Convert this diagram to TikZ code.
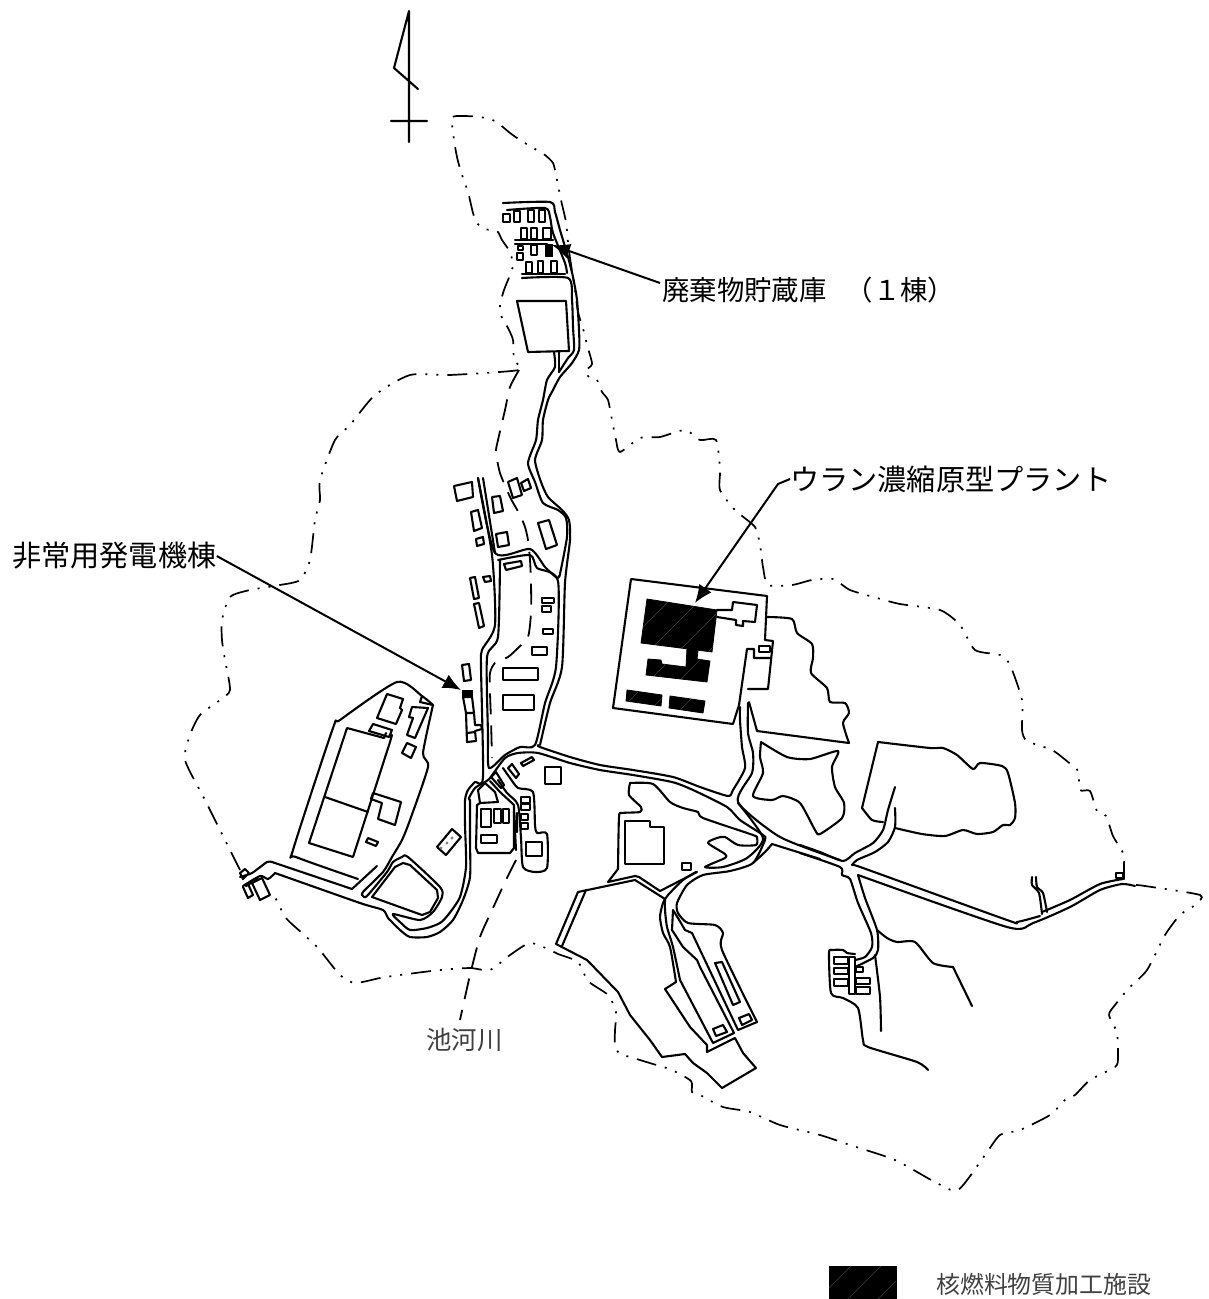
\documentclass[tikz,border=0pt]{standalone}
\usepackage{fontspec}
\usetikzlibrary{arrows.meta}
\newfontfamily\jp{Noto Sans CJK JP}
\tikzset{
 ln/.style={line width=2.1bp,line join=round,line cap=round,draw=black},
 bnd/.style={line width=1.7bp,dash pattern=on 20bp off 9bp on 2bp off 9bp on 2bp off 9bp},
 riv/.style={line width=1.8bp,dash pattern=on 21bp off 11bp},
 lbl/.style={font=\jp\fontsize{29.3}{31}\selectfont,inner sep=0pt,anchor=west,text=black},
 lgd/.style={font=\jp\fontsize{24}{26}\selectfont,inner sep=0pt,anchor=west,text=black!75},
 ptr/.style={line width=2bp,-{Latex[length=18bp,width=15bp]}},
 blk/.style={fill=black,draw=black,line width=.8bp,line join=round},
 hatchl/.style={line width=.5bp,draw=black!75},
}
\newcommand{\cv}[2][ln]{\draw[#1] plot[smooth,tension=.4] coordinates {#2};}
\newcommand{\hatched}[2]{\fill[black,draw=black,line width=.8bp,line join=round] #1;
 \begin{scope}\clip #1; \foreach \d in {-1000,-970,...,1500} {\draw[hatchl] (\d+#2,1400) -- (\d+#2+1400,0);}\end{scope}}
\begin{document}
\begin{tikzpicture}[x=1bp,y=-1bp]
\useasboundingbox (0,0) rectangle (1208,1299);
% north arrow
\draw[ln] (409,11) -- (409,142) (391,121) -- (427,121) (409,11) -- (394,68) -- (418,89);
% boundary
\cv[bnd]{(240,870)(225,840)(205,800)(185,760)(190,735)(200,715)(220,700)(230,690)(225,660)(222,640)(222,620)(230,597)(250,590)(280,585)(300,580)(310,560)(315,520)(320,500)(320,480)(335,440)(350,425)(375,395)(410,375)(450,375)(519,370)(514,360)(513,340)(508,328)(502,318)(500,305)(504,290)(510,275)(513,265)(510,252)(502,240)(497,231)(484,229)(477,223)(473,213)(468,192)(461,172)(457,157)(454,140)(452,118)(462,116)(480,117)(495,121)(510,133)(520,140)(535,149)(545,155)(553,163)(556,175)(561,200)(566,222)(568,242)(570,258)(575,290)(578,312)(584,332)(587,345)(592,364)(585,371)(590,378)(597,380)(602,392)(608,400)(612,420)(616,440)(620,452)(640,438)(660,437)(685,430)(700,440)(716,440)(720,470)(720,490)(735,510)(755,527)(760,545)(763,567)(768,585)(792,585)(812,580)(833,579)(850,590)(877,598)(900,604)(940,610)(960,625)(975,650)(1000,655)(1010,665)(1022,700)(1022,730)(1027,741)(1052,750)(1068,762)(1078,771)(1080,790)(1090,791)(1097,811)(1106,816)(1113,836)(1123,853)(1124,863)}
\cv[bnd]{(1136,885)(1145,886)(1200,895)(1195,905)(1180,915)(1165,935)(1147,970)(1129,988)(1115,1005)(1109,1015)(1117,1033)(1118,1058)(1115,1067)(1090,1080)(1075,1095)(1065,1100)(1050,1115)(1020,1130)(1000,1135)(985,1155)(958,1190)(935,1182)(895,1160)(850,1145)(820,1135)(780,1125)(750,1112)(723,1107)(700,1095)(692,1092)(691,1081)(672,1070)(653,1064)(630,1057)(620,1054)(615,1046)(615,1030)(616,1012)(608,995)(588,981)(578,962)(558,954)(550,950)(530,943)(510,955)(490,970)(470,968)(440,970)(400,975)(380,978)(355,983)(340,975)(318,948)(302,933)(286,918)(275,897)}
% river
\cv[riv]{(519,370)(510,387)(505,410)(498,440)(496,452)(500,473)(510,497)(520,515)(525,527)(528,540)(530,560)(531,583)(531,613)(528,637)(518,648)(508,657)(495,663)(490,673)(490,693)(491,720)(492,758)}
\cv[riv]{(516,860)(505,882)(493,908)(480,937)(470,975)(460,1020)}
\draw[ln] (514,812) -- (516,850) (517,813) -- (517,832);
% top compound
\cv{(503,203)(550,202)(555,212)(560,230)(568,257)(573,277)(577,300)(579,330)(579,350)(572,363)(560,377)(553,390)(548,400)(543,420)(542,440)(535,460)(541,482)(548,497)(562,510)(569,520)(570,540)(565,583)(562,667)(550,703)(540,745)}
\cv{(507,210)(545,208)(550,217)(553,233)(565,263)(567,273)}
\cv{(522,278)(568,278)(572,300)(573,327)(574,350)(568,358)(559,372)}
\draw[ln] (559,372) -- (559,352);
\cv{(554,352)(555,367)(547,380)(543,400)(538,420)(536,440)(528,463)(535,482)(543,503)(558,510)(566,518)(567,537)(560,574)(559,576)(557,578)(545,567)(530,549)(495,553)(478,478)}
\draw[ln] (483,478) -- (495,553);
\draw[ln] (515,240) -- (553,240) (515,244) -- (547,244) (522,274) -- (565,274);
\foreach \a/\b/\c/\d in {503/214/510/222,514/211/520/222,528/210/534/222,539/210/545/222,521/228/527/239,531/228/537/239,543/228/551/239,518/246/523/250,517/253/523/260,531/245/537/255,526/262/532/273,538/261/543/273,551/261/557/273}
 \draw[ln] (\a,\b) rectangle (\c,\d);
\fill[blk] (545,244) rectangle (552,256);
\draw[ln] (517,301) -- (566,301) -- (569,351) -- (528,352) -- cycle;
% mid compound road ring
\cv{(478,478)(492,555)(495,625)(482,650)(481,667)(483,777)(475,782)(468,790)(465,800)(465,825)(466,867)(460,897)(448,915)(440,923)(427,928)(410,930)(400,922)(393,914)(420,920)(433,912)(442,897)(440,887)(408,857)(402,857)(393,862)(387,872)(367,896)(363,896)(363,892)(383,872)(392,857)(402,840)(410,820)(428,767)(423,753)(433,705)}
\cv{(498,560)(530,555)(537,568)(558,581)(556,667)(545,703)(535,745)(520,747)(505,755)(489,768)(488,735)(487,657)(498,637)(500,560)}
% east road
\cv{(538,745)(540,747)(570,757)(600,765)(633,770)(673,777)(700,787)(728,796)(733,790)(745,768)(742,747)(740,720)(740,707)}
\cv{(748,703)(748,733)(753,753)(752,773)(738,802)(780,837)(840,860)}
\cv{(485,782)(490,778)(505,758)(518,753)(538,753)(570,763)(600,770)(633,775)(672,782)(693,790)(727,807)(740,820)(763,835)(765,840)(753,863)(730,871)(703,875)(687,885)(677,903)(678,913)(688,923)(715,925)(723,933)(722,950)(757,1022)}
\cv{(800,845)(820,852)(843,861)(855,853)(873,843)(883,830)(888,810)(895,787)}
\cv{(895,808)(895,827)(888,842)(875,852)(857,860)(853,865)(863,868)(1007,920)(1017,922)(1040,916)}
\cv{(1042,912)(1070,900)(1100,884)(1123,879)}
\cv{(1032,877)(1032,885)(1039,893)(1042,914)}
\cv{(1036,877)(1037,887)(1043,893)(1047,912)}
\cv{(858,875)(1007,927)(1033,923)(1070,907)(1100,890)(1122,884)(1135,886)}
\cv{(800,853)(840,867)(842,875)(850,879)(858,903)(871,933)(872,947)(865,957)(855,960)}
\cv{(858,875)(865,898)(877,930)(878,950)(873,958)(855,967)}
\cv{(877,930)(887,938)(897,942)(915,942)(933,963)(953,967)}
\draw[ln] (953,967) -- (972,1006);
\cv{(875,955)(880,997)(881,1031)}
\cv{(855,954)(847,953)(843,950)(832,950)(829,953)(831,993)(843,998)(858,1008)(863,1040)(868,1047)(917,1062)(928,1070)}
\foreach \a/\b/\c/\d in {834/957/848/964,834/968/848/974,834/979/848/986,856/978/870/984,856/987/870/994,856/967/863/972,849/957/855/994}
 \draw[ln] (\a,\b) rectangle (\c,\d);
% big pond
\cv{(895,828)(922,834)(945,836)(963,830)(977,834)(993,832)(1003,825)(1010,825)(1015,818)(1015,803)(1008,773)(1002,766)(980,763)(973,769)(957,755)(943,748)(930,748)(878,742)}
\draw[ln] (878,742) -- (862,808);
\cv{(862,808)(872,820)(883,822)}
\draw[ln] (1116,873) rectangle (1123,878) (1124,863) -- (1124,879);
% ponds
\cv{(761,742)(787,757)(810,759)(838,751)(832,767)(835,787)(844,803)(842,818)(820,834)(815,830)(800,803)(783,796)(772,800)(753,796)(763,773)(760,757)(761,742)}
\cv{(767,617)(792,619)(797,633)(812,644)(813,658)(811,673)(827,688)(830,702)(845,703)(849,713)(843,723)(849,743)}
\draw[ln] (849,743) -- (757,731) -- (749,702);
% plant
\draw[ln] (739,705) -- (733,724) -- (613,708) -- (631,579) -- (767,596) -- (765,640) -- (773,641) -- (768,689) -- (748,689) (739,705) -- (747,649) -- (754,649) -- (754,658) -- (770,658);
\draw[ln] (759,646) rectangle (770,652);
\draw[ln] (717,610) -- (732,610) -- (733,602) -- (757,605) -- (755,622) -- (743,621) -- (743,626) -- (736,625) -- (736,620) -- (717,617);
\hatched{(647,599) -- (717,610) -- (712,652) -- (641,643) -- cycle}{0}
\hatched{(648,659) -- (661,660) -- (662,664) -- (686,667) -- (687,648) -- (698,651) -- (697,659) -- (710,661) -- (707,682) -- (646,675) -- cycle}{0}
\hatched{(627,690) -- (662,695) -- (661,706) -- (626,701) -- cycle}{0}
\hatched{(670,696) -- (705,701) -- (703,713) -- (669,708) -- cycle}{0}
% central-south zone
\cv{(630,783)(653,784)(670,802)(683,808)(698,812)(703,818)(753,835)(757,838)(756,845)(738,845)(725,837)(717,838)(708,843)(725,854)(725,858)(705,867)(723,867)(747,858)(763,838)(738,803)}
\cv{(630,783)(629,795)(641,807)(640,812)(622,813)(619,817)(618,869)}
\draw[ln] (618,869) -- (608,882) -- (635,876) -- (639,877) -- (660,891) -- (697,872);
\cv{(696,872)(683,880)(668,895)(663,903)(660,917)(663,933)(670,947)(676,982)}
\draw[ln] (676,982) -- (665,989) -- (690,1027) -- (707,1045) -- (707,1052) -- (735,1038) -- (743,1053) -- (756,1068) -- (722,1088) -- (707,1073) -- (693,1063) -- (685,1054) -- (662,1057) -- (650,1040) -- (630,1015) -- (618,992) -- (587,960) -- (556,944) -- (578,892) -- (635,880) -- (665,899);
\draw[ln] (562,946) -- (586,890);
\cv{(665,899)(665,910)(667,927)(673,947)(680,980)}
\draw[ln] (680,980) -- (713,1043) -- (734,1033) -- (700,967) -- (697,960) -- (683,947) -- (672,930) -- (673,910) -- (678,918) -- (685,930) -- (692,933) -- (738,1030) -- (757,1022);
\cv{(772,844)(820,859)}
\cv{(753,863)(765,852)(772,844)}
\draw[ln] (625,821) -- (650,821) -- (650,827) -- (664,827) -- (664,864) -- (625,864) -- cycle;
\draw[ln] (682,863) rectangle (691,870);
\draw[ln] (715,963) -- (722,962) -- (740,1002) -- (733,1005) -- cycle;
\draw[ln] (713,1029) -- (723,1025) -- (727,1032) -- (716,1036) -- cycle;
\draw[ln] (739,1018) -- (749,1014) -- (752,1020) -- (742,1025) -- cycle;
% west site
\cv{(433,705)(422,696)(397,682)(340,720)(333,728)(293,850)(296,857)(358,879)}
\draw[ln] (422,696) -- (420,702) -- (433,705);
\draw[ln] (347,728) -- (384,738) (390,742) -- (353,857) -- (309,843) -- (347,728) (325,797) -- (368,812);
\draw[ln] (373,724) -- (392,730) -- (389,737) -- (369,731) -- cycle (384,738) -- (386,733) (390,742) -- (392,735);
\draw[ln] (387,694) -- (403,699) -- (400,708) -- (402,710) -- (396,724) -- (377,718) -- cycle;
\draw[ln] (412,707) -- (428,708) -- (415,738) -- (407,735) -- (413,718) -- (409,717) -- cycle;
\draw[ln] (407,743) -- (416,747) -- (411,758) -- (402,753) -- cycle;
\draw[ln] (373,793) -- (401,802) -- (395,825) -- (378,819) -- (382,803) -- (371,799) -- cycle;
\draw[ln] (368,838) -- (378,842) -- (376,846) -- (366,842) -- cycle;
\draw[ln] (452,829) -- (461,837) -- (446,855) -- (437,847) -- cycle;
\fill[black!50] (452,838) circle (1.6bp) (447,843) circle (1.6bp) (441,848) circle (1.6bp);
% loop road
\draw[ln] (372,897) -- (395,867) -- (403,863) -- (410,865) -- (437,890) -- (438,898) -- (430,912) -- (422,915) -- cycle;
\cv{(470,800)(469,798)(475,788)(485,782)}
\cv{(470,800)(470,840)(470,877)(463,900)(453,920)(440,932)(427,937)(410,937)(400,930)(388,918)(383,910)(360,903)(275,873)}
\cv{(275,873)(268,879)(260,876)(243,886)}
\draw[ln] (272,862) -- (352,889) -- (377,866);
\cv{(240,877)(252,873)(267,862)(272,862)}
\draw[ln] (240,873) -- (245,869) -- (249,873) -- (243,879) -- cycle;
\draw[ln] (243,887) -- (248,898) -- (253,895) -- (248,884) (252,883) -- (260,900) -- (270,895) -- (262,878) -- (252,883) (246,886) -- (258,879);
% plant hut area
\draw[ln] (480,803) -- (477,805) -- (476,848) -- (478,853) -- (510,853) -- (514,848) -- (514,805) -- (500,792) -- (490,781);
\draw[ln] (480,803) -- (498,802) -- (495,792) -- (485,783) -- (478,790) -- (480,803);
\foreach \a/\b/\c/\d in {481/809/491/827,494/809/501/823,503/809/509/823,481/835/497/843,521/797/530/803,521/804/530/810,521/814/528/820,521/823/528/829,526/842/542/856,545/767/561/784}
 \draw[ln] (\a,\b) rectangle (\c,\d);
\draw[ln] (521,763) -- (532,757) -- (534,760) -- (523,766) -- cycle;
\draw[ln] (508,768) -- (512,764) -- (519,774) -- (516,778) -- cycle;
\draw[ln] (491,777) -- (496,772) -- (504,785) -- (501,788) -- cycle;
\cv{(503,768)(510,778)(518,788)(533,792)(535,825)(537,833)(547,834)(547,868)(535,872)(523,867)(521,838)(518,805)(507,793)(498,780)}
% mid buildings
\foreach \p in {{(454,486) -- (472,482) -- (473,497) -- (457,501)},{(471,512) -- (478,510) -- (482,528) -- (474,531)},{(476,539) -- (483,537) -- (484,544) -- (477,546)},{(492,497) -- (500,496) -- (503,511) -- (494,513)},{(496,534) -- (507,532) -- (509,545) -- (498,547)},{(508,482) -- (517,478) -- (522,495) -- (513,498)},{(521,483) -- (528,479) -- (531,488) -- (524,491)},{(538,523) -- (549,520) -- (557,545) -- (546,549)},{(504,564) -- (521,561) -- (522,566) -- (506,570)},{(483,577) -- (490,576) -- (491,581) -- (485,582)},{(470,578) -- (475,577) -- (479,598) -- (474,599)},{(474,604) -- (479,603) -- (484,626) -- (479,628)},{(462,665) -- (469,664) -- (471,680) -- (464,681)}}
 \draw[ln] \p -- cycle;
\foreach \a/\b/\c/\d in {542/598/554/603,542/606/551/612,543/629/553/634,532/647/547/655,503/668/538/680,503/695/534/710}
 \draw[ln] (\a,\b) rectangle (\c,\d);
% generator building
\draw[ln] (463,697) -- (472,697) -- (474,713) -- (475,725) -- (481,725) -- (482,729) -- (475,731) -- (476,741) -- (467,742) -- (466,713) -- cycle (466,713) -- (474,713) (467,733) -- (475,732);
\fill[blk] (462,690) rectangle (472,697);
% labels
\node[lbl,font=\jp\fontsize{27.5}{30}\selectfont] (waste) at (662,290) {廃棄物貯蔵庫\hspace{.7em}（１棟）};
\node[lbl] (uranium) at (790,479) {ウラン濃縮原型プラント};
\node[lbl] (gen) at (12,556) {非常用発電機棟};
\node[lgd,font=\jp\fontsize{25.5}{27}\selectfont] (river) at (426,1040) {池河川};
\node[lgd] (legend) at (936,1284) {核燃料物質加工施設};
% swatch
\hatched{(829,1266) -- (896,1266) -- (896,1298) -- (829,1298) -- cycle}{7}
% pointers
\coordinate (t1) at (552,245);
\coordinate (s1) at (660,283);
\coordinate (t2) at (695,603);
\coordinate (b2) at (778,484);
\coordinate (t3) at (461,690);
\draw[ptr] (s1) -- (t1);
\draw[ptr] (uranium.west) -- (b2) -- (t2);
\draw[ptr] (gen.east) -- (t3);
\end{tikzpicture}
\end{document}
